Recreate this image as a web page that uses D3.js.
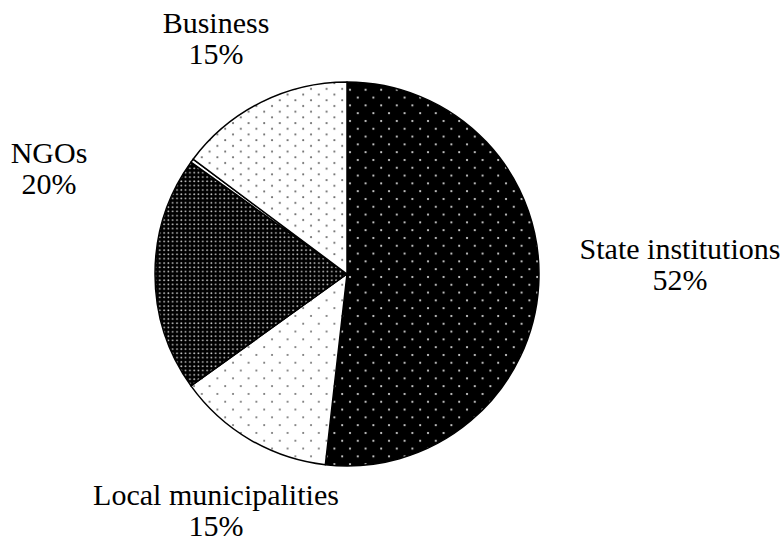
<!DOCTYPE html>
<html>
<head>
<meta charset="utf-8">
<script src="https://cdn.jsdelivr.net/npm/d3@7"></script>
<style>
  body { margin: 0; background: #fff; }
</style>
</head>
<body>
<svg class="chart"></svg>
<script>
// slice order clockwise from 12 o'clock
const categories = ['State institutions', 'Local municipalities', 'NGOs', 'Other', 'Business'];
const shares = [51.8, 13.3, 19.8, 0.3, 14.8];
const shownPct = ['52%', '15%', '20%', '', '15%'];

const width = 782;
const height = 542;

const startApp = () => {
  const svg = d3.select('.chart')
    .attr('width', width)
    .attr('height', height);

  const defs = svg.append('defs');

  // dotted fills
  function dots(id, w, h, bg, fill, r, pts) {
    const p = defs.append('pattern')
      .attr('id', id)
      .attr('patternUnits', 'userSpaceOnUse')
      .attr('width', w)
      .attr('height', h);
    p.append('rect').attr('width', w).attr('height', h).attr('fill', bg);
    pts.forEach(pt => {
      p.append('circle').attr('cx', pt[0]).attr('cy', pt[1]).attr('r', r).attr('fill', fill);
    });
  }
  dots('pState', 15.6, 15.6, '#000', '#ddd', 1.1, [[3, 3], [10.8, 10.8]]);
  dots('pLocal', 15.6, 15.6, '#fff', '#666', 1.0, [[3, 3], [10.8, 10.8]]);
  dots('pNgo', 4.3, 4.3, '#000', '#ccc', 0.9, [[2, 2]]);
  dots('pBiz', 15.6, 11.4, '#fff', '#666', 1.0, [[3, 3], [10.8, 8.7]]);

  const fills = ['url(#pState)', 'url(#pLocal)', 'url(#pNgo)', '#fff', 'url(#pBiz)'];

  const cx = 347;
  const cy = 274;
  const radius = 192;

  const pie = d3.pie().sort(null).value(d => d);
  const arc = d3.arc().innerRadius(0).outerRadius(radius);

  const g = svg.append('g').attr('transform', `translate(${cx},${cy})`);

  g.selectAll('path')
    .data(pie(shares))
    .enter()
    .append('path')
    .attr('d', arc)
    .attr('fill', (d, i) => fills[i])
    .attr('stroke', '#000')
    .attr('stroke-width', 1.5)
    .attr('stroke-linejoin', 'round');

  // label anchor points (first baseline, centred)
  const labelPos = [[680, 259], [216, 505], [49, 163], null, [216, 33]];

  categories.forEach((c, i) => {
    if (!labelPos[i]) return;
    const t = svg.append('text')
      .style('font-family', "'Liberation Serif'")
      .style('font-size', '30px')
      .attr('text-anchor', 'middle')
      .attr('x', labelPos[i][0])
      .attr('y', labelPos[i][1]);
    t.append('tspan').attr('x', labelPos[i][0]).text(c);
    t.append('tspan').attr('x', labelPos[i][0]).attr('dy', 31).text(shownPct[i]);
  });
};

window.onload = startApp;
</script>
</body>
</html>
